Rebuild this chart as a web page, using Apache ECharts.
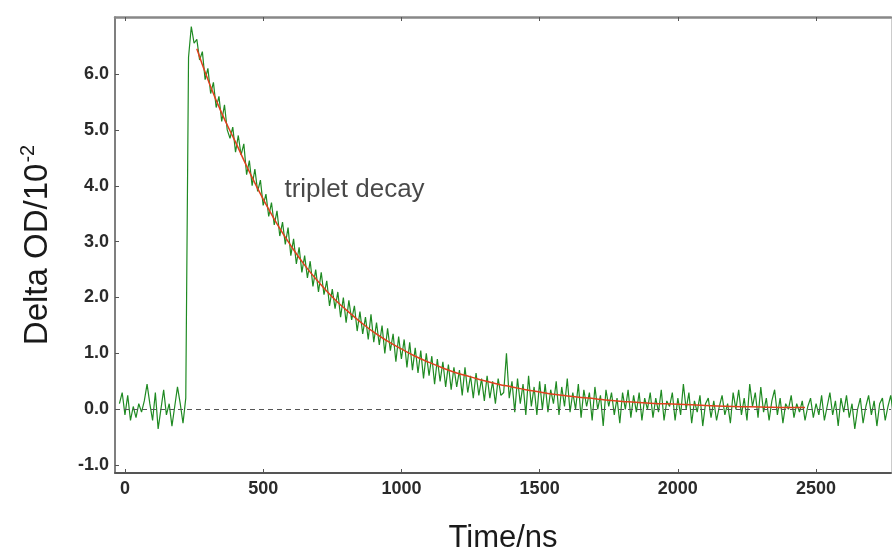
<!DOCTYPE html>
<html><head><meta charset="utf-8">
<script src="https://cdn.jsdelivr.net/npm/echarts@6/dist/echarts.min.js"></script>
<style>html,body{margin:0;padding:0;background:#fff;overflow:hidden}#c{width:892px;height:552px}</style>
</head><body><div id="c"></div>
<script>
// sampling grid of the transient (ns)
const T0 = -20, DT = 10;
// measured signal, Delta OD / 10^-2
const signal = [
 0.1, 0.3, -0.1, 0.25, -0.2, 0.05, -0.15, 0.1, -0.05, 0.15, 0.45, 0.1, -0.2, 0.3, -0.35, 0.0, 0.35, -0.1, 0.1, -0.3, 0.05, 0.4, 0.1, -0.25, 0.2,
 6.3, 6.85, 6.55, 6.62, 6.25, 6.4, 5.9, 6.1, 5.65, 5.85,
 5.4, 5.6, 5.15, 5.45, 5.0, 4.85, 5.05, 4.6, 4.9, 4.55,
 4.75, 4.2, 4.45, 4.0, 4.3, 3.9, 4.1, 3.65, 3.85, 3.45,
 3.7, 3.3, 3.55, 3.1, 3.35, 2.95, 3.25, 2.75, 3.05, 2.6,
 2.9, 2.45, 2.75, 2.35, 2.65, 2.2, 2.5, 2.1, 2.45, 2.05,
 2.3, 1.85, 2.15, 1.8, 2.1, 1.65, 2.0, 1.55, 1.95, 1.6,
 1.85, 1.4, 1.75, 1.35, 1.65, 1.25, 1.7, 1.2, 1.55, 1.15,
 1.5, 1.0, 1.45, 1.05, 1.35, 0.85, 1.3, 0.9, 1.25, 0.75,
 1.2, 0.7, 1.1, 0.65, 1.05, 0.55, 1.0, 0.6, 0.95, 0.45,
 0.9, 0.5, 0.85, 0.4, 0.8, 0.35, 0.75, 0.4, 0.7, 0.25,
 0.75, 0.3, 0.6, 0.2, 0.65, 0.25, 0.55, 0.15, 0.6, 0.2,
 0.5, 0.1, 0.55, 0.25, 0.3, 1.0, 0.2, 0.5, -0.05, 0.55,
 0.1, 0.45, -0.1, 0.6, 0.05, 0.4, -0.1, 0.5, 0.0, 0.45,
 -0.05, 0.35, 0.1, 0.5, -0.1, 0.4, 0.05, 0.55, -0.05, 0.3,
 0.0, 0.45, -0.15, 0.35, 0.05, 0.3, -0.2, 0.4, 0.0, 0.25,
 -0.3, 0.35, 0.05, 0.3, -0.1, 0.2, -0.25, 0.3, 0.0, 0.35,
 -0.15, 0.25, -0.05, 0.3, -0.2, 0.2, 0.0, 0.3, -0.15, 0.2,
 -0.05, 0.35, -0.2, 0.15, 0.05, 0.3, -0.2, 0.2, -0.1, 0.45,
 0.0, 0.3, -0.25, 0.15, -0.05, 0.25, -0.3, 0.1, 0.2, -0.15,
 0.15, -0.2, 0.05, 0.25, -0.1, 0.1, -0.25, 0.3, 0.0, 0.35,
 -0.1, 0.2, -0.2, 0.45, 0.05, 0.3, -0.15, 0.4, -0.05, 0.2,
 -0.2, 0.15, 0.35, -0.1, 0.2, -0.25, 0.1, 0.0, 0.25, -0.15,
 0.1, -0.05, 0.15, -0.2, 0.05, 0.2, -0.15, 0.1, -0.1, 0.25,
 -0.2, 0.05, 0.3, -0.1, 0.15, -0.3, 0.2, -0.05, 0.25, -0.15,
 0.1, -0.35, 0.0, 0.2, -0.25, 0.05, 0.25, -0.1, 0.15, -0.3,
 0.1, 0.2, -0.2, 0.05, 0.25, -0.1
];
// exponential fit (red)
const fitTimes = [260, 300, 350, 400, 450, 500, 550, 600, 650, 700, 750, 800, 850, 900, 950, 1000, 1050, 1100, 1150, 1200, 1250, 1300, 1350, 1400, 1450, 1500, 1550, 1600, 1650, 1700, 1750, 1800, 1900, 2000, 2100, 2200, 2300, 2400, 2460];
const fitValues = [6.45, 5.9, 5.3, 4.78, 4.25, 3.76, 3.32, 2.93, 2.58, 2.28, 2.01, 1.78, 1.57, 1.38, 1.22, 1.08, 0.95, 0.84, 0.74, 0.65, 0.58, 0.51, 0.45, 0.40, 0.35, 0.31, 0.27, 0.24, 0.21, 0.19, 0.16, 0.14, 0.11, 0.09, 0.07, 0.05, 0.04, 0.03, 0.03];
const xTicks = [0, 500, 1000, 1500, 2000, 2500];
const yTicks = [-1, 0, 1, 2, 3, 4, 5, 6];
const annotation = {text: 'triplet decay', t: 575, v: 3.92};

const sigData = signal.map((v, i) => [T0 + i * DT, v]);
const fitData = fitTimes.map((t, i) => [t, fitValues[i]]);

const FONT = 'Liberation Sans, Arial, sans-serif';
const chart = echarts.init(document.getElementById('c'), null, {renderer: 'canvas'});
const labelFont = {fontFamily: FONT, fontSize: 18, fontWeight: 'bold', color: '#2a2a2a'};
chart.setOption({
  animation: false,
  backgroundColor: '#fff',
  grid: {left: 115, right: 1, top: 17, bottom: 79, containLabel: false, outerBoundsMode: 'none'},
  xAxis: [{
    type: 'value', min: -36, max: 2771, position: 'bottom',
    name: 'Time/ns', nameLocation: 'middle', nameGap: 50,
    nameTextStyle: {fontFamily: FONT, fontSize: 31, color: '#1a1a1a'},
    axisLine: {show: true, onZero: false, lineStyle: {color: '#555', width: 2}},
    axisTick: {show: true, inside: true, length: 4, customValues: xTicks, lineStyle: {color: '#555'}},
    axisLabel: Object.assign({customValues: xTicks, margin: 7, formatter: v => String(v)}, labelFont),
    splitLine: {show: false}
  }, {
    type: 'value', min: -36, max: 2771, position: 'top',
    axisLine: {show: true, onZero: false, lineStyle: {color: '#888', width: 2.5}},
    axisTick: {show: true, inside: true, length: 4, customValues: xTicks, lineStyle: {color: '#555'}},
    axisLabel: {show: false}, splitLine: {show: false}
  }],
  yAxis: [{
    type: 'value', min: -1.14, max: 7.02, position: 'left',
    name: '{a|Delta OD/10}{s|-2}', nameLocation: 'middle', nameGap: 58, nameRotate: 90,
    nameTextStyle: {rich: {
      a: {fontFamily: FONT, fontSize: 33, color: '#1a1a1a'},
      s: {fontFamily: FONT, fontSize: 20, color: '#1a1a1a', padding: [0, 0, 19, 1]}
    }},
    axisLine: {show: true, onZero: false, lineStyle: {color: '#555', width: 1.5}},
    axisTick: {show: true, inside: true, length: 4, customValues: yTicks, lineStyle: {color: '#555'}},
    axisLabel: Object.assign({customValues: yTicks, margin: 6, formatter: v => v.toFixed(1)}, labelFont),
    splitLine: {show: false}
  }, {
    type: 'value', min: -1.14, max: 7.02, position: 'right',
    axisLine: {show: true, onZero: false, lineStyle: {color: '#ccc', width: 1}},
    axisTick: {show: false}, axisLabel: {show: false}, splitLine: {show: false}
  }],
  series: [{
    type: 'line', data: [], z: 1, silent: true,
    markLine: {
      silent: true, symbol: 'none', label: {show: false},
      lineStyle: {color: '#555', type: [5, 4], width: 1},
      data: [{yAxis: 0}]
    }
  }, {
    type: 'line', data: sigData, z: 2, showSymbol: false, symbol: 'none',
    lineStyle: {color: '#1f8a22', width: 1.2}
  }, {
    type: 'line', data: fitData, z: 3, showSymbol: false, symbol: 'none', smooth: true,
    lineStyle: {color: '#e0401e', width: 1.5}
  }, {
    type: 'scatter', data: [[annotation.t, annotation.v]], z: 4, symbolSize: 1,
    itemStyle: {color: 'rgba(0,0,0,0)'},
    label: {show: true, position: 'right', distance: 0, formatter: annotation.text,
      fontFamily: FONT, fontSize: 26, color: '#1a1a1a'}
  }]
});
</script>
</body></html>
